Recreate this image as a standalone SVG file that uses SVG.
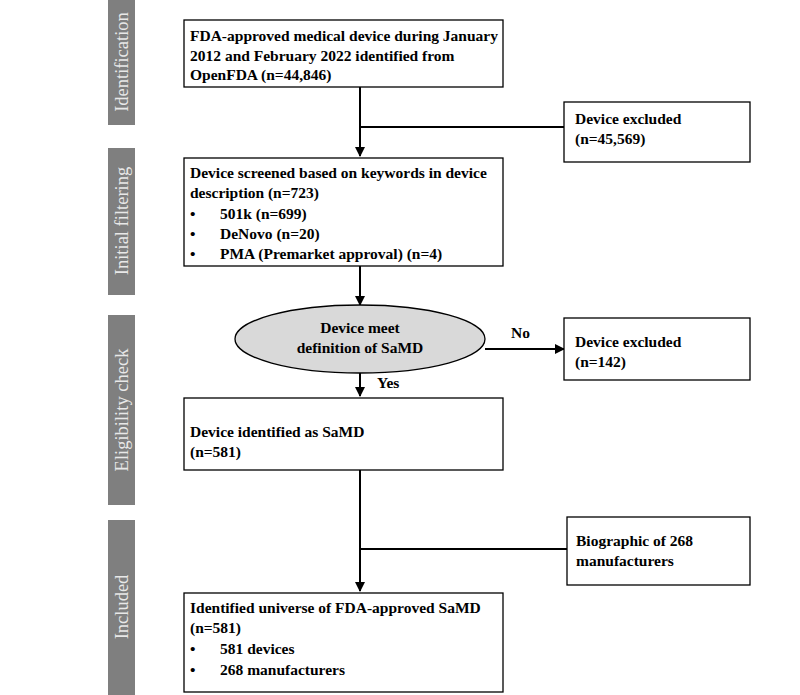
<svg xmlns="http://www.w3.org/2000/svg" width="800" height="695" viewBox="0 0 800 695">
<style>
.bar{fill:#7f7f7f}
.bt{fill:#e8e8e8;font-family:"Liberation Serif",serif;font-size:18.5px;text-anchor:middle}
.box{fill:#fff;stroke:#000;stroke-width:1.3}
.t{font-family:"Liberation Serif",serif;font-size:15.5px;font-weight:bold;fill:#000}
.ln{stroke:#000;stroke-width:2;fill:none}
</style>
<defs><marker id="a" markerWidth="10" markerHeight="10" refX="9" refY="5" orient="auto" markerUnits="userSpaceOnUse"><path d="M0,0L10,5L0,10z" fill="#000"/></marker></defs>
<rect width="800" height="695" fill="#fff"/>
<g id="stages">
<rect class="bar" x="108" y="0" width="27" height="125"/>
<text class="bt" transform="translate(128,62) rotate(-90)">Identification</text>
<rect class="bar" x="108" y="148" width="27" height="147"/>
<text class="bt" transform="translate(128,221) rotate(-90)">Initial filtering</text>
<rect class="bar" x="108" y="315" width="27" height="190"/>
<text class="bt" transform="translate(128,410) rotate(-90)">Eligibility check</text>
<rect class="bar" x="108" y="520" width="27" height="175"/>
<text class="bt" transform="translate(128,607) rotate(-90)">Included</text>
</g>
<g id="connectors">
<line class="ln" x1="360" y1="87" x2="360" y2="156" marker-end="url(#a)"/>
<line class="ln" x1="360" y1="127" x2="564" y2="127"/>
<line class="ln" x1="360" y1="266" x2="360" y2="305" marker-end="url(#a)"/>
<line class="ln" x1="485" y1="349" x2="564" y2="349" marker-end="url(#a)"/>
<line class="ln" x1="360" y1="373" x2="360" y2="396" marker-end="url(#a)"/>
<line class="ln" x1="360" y1="470" x2="360" y2="591" marker-end="url(#a)"/>
<line class="ln" x1="360" y1="549" x2="567" y2="549"/>
<text class="t" x="511" y="338">No</text>
<text class="t" x="377" y="388">Yes</text>
</g>
<g id="n1"><rect class="box" x="184" y="20" width="319" height="67"/>
<text class="t" x="190" y="41">FDA-approved medical device during January</text>
<text class="t" x="190" y="61">2012 and February 2022 identified from</text>
<text class="t" x="190" y="80">OpenFDA (n=44,846)</text></g>
<g id="n2"><rect class="box" x="564" y="102" width="186" height="60"/>
<text class="t" x="575" y="124">Device excluded</text>
<text class="t" x="575" y="144">(n=45,569)</text></g>
<g id="n3"><rect class="box" x="184" y="158" width="319" height="108"/>
<text class="t" x="190" y="178">Device screened based on keywords in device</text>
<text class="t" x="190" y="198">description (n=723)</text>
<text class="t" x="190" y="219">•</text><text class="t" x="220" y="219">501k (n=699)</text>
<text class="t" x="190" y="239">•</text><text class="t" x="220" y="239">DeNovo (n=20)</text>
<text class="t" x="190" y="259">•</text><text class="t" x="220" y="259">PMA (Premarket approval) (n=4)</text></g>
<g id="n4"><ellipse cx="360" cy="339" rx="125" ry="34" fill="#d9d9d9" stroke="#000" stroke-width="1.3"/>
<text class="t" x="360" y="333" text-anchor="middle">Device meet</text>
<text class="t" x="360" y="353" text-anchor="middle">definition of SaMD</text></g>
<g id="n5"><rect class="box" x="564" y="318" width="186" height="62"/>
<text class="t" x="575" y="347">Device excluded</text>
<text class="t" x="575" y="367">(n=142)</text></g>
<g id="n6"><rect class="box" x="184" y="398" width="319" height="72"/>
<text class="t" x="190" y="437">Device identified as SaMD</text>
<text class="t" x="190" y="457">(n=581)</text></g>
<g id="n7"><rect class="box" x="567" y="517" width="183" height="68"/>
<text class="t" x="576" y="546">Biographic of 268</text>
<text class="t" x="576" y="566">manufacturers</text></g>
<g id="n8"><rect class="box" x="184" y="593" width="319" height="99"/>
<text class="t" x="190" y="613">Identified universe of FDA-approved SaMD</text>
<text class="t" x="190" y="633">(n=581)</text>
<text class="t" x="190" y="654">•</text><text class="t" x="220" y="654">581 devices</text>
<text class="t" x="190" y="675">•</text><text class="t" x="220" y="675">268 manufacturers</text></g>
</svg>
